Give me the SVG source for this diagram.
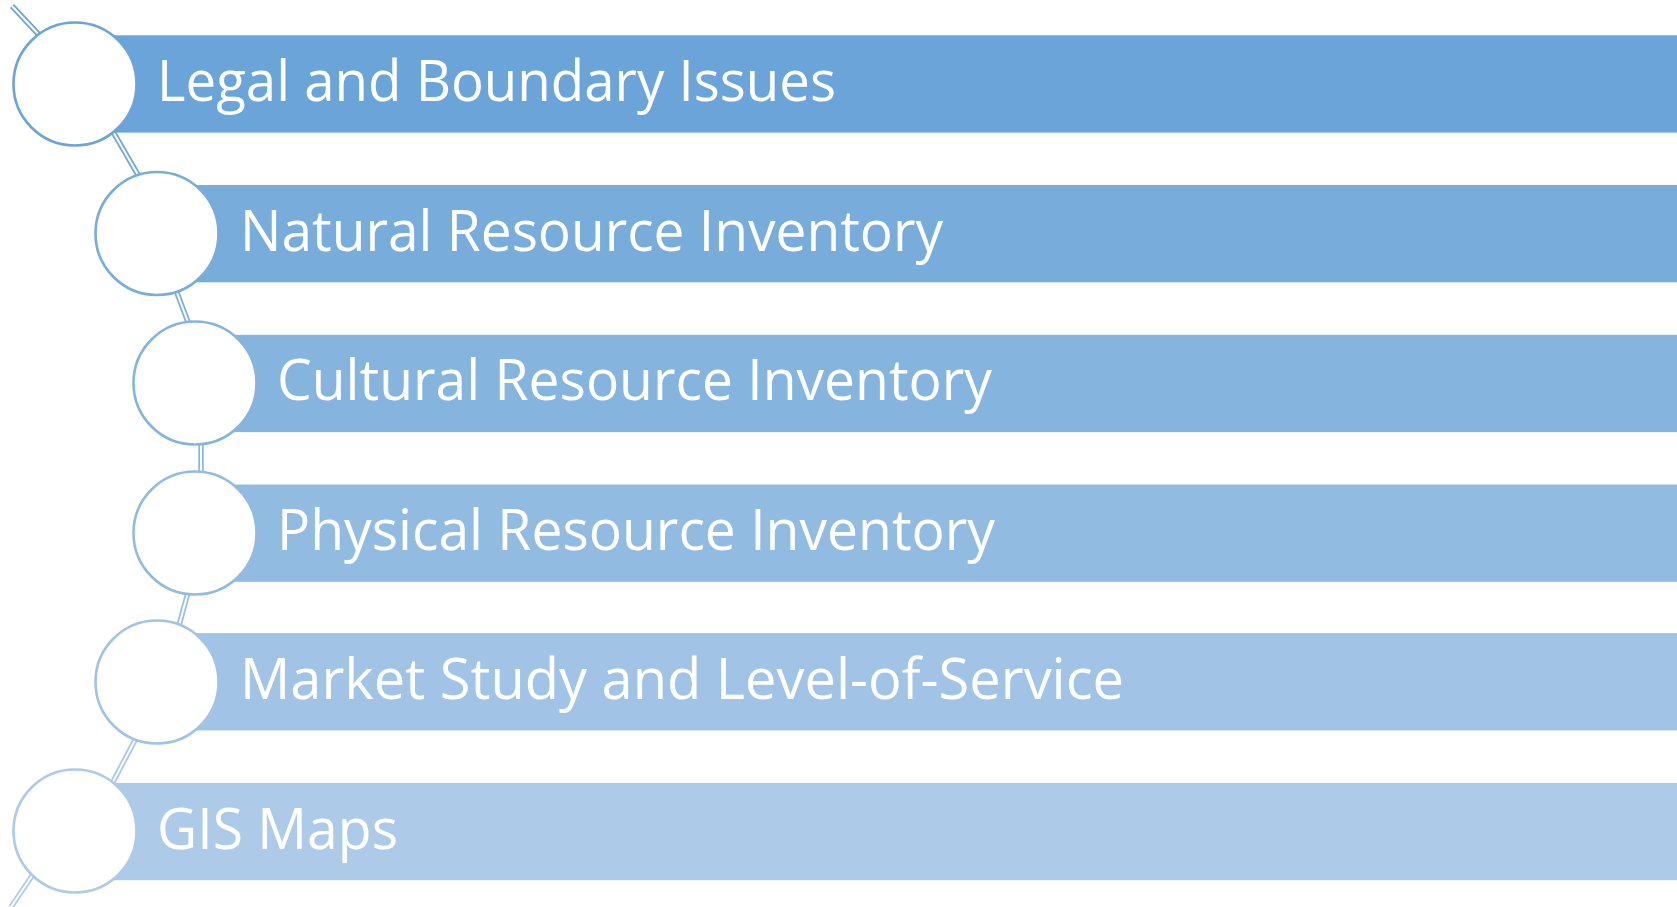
<svg xmlns="http://www.w3.org/2000/svg" width="1677" height="907" viewBox="0 0 1677 907">
<style>
.lbl{font-family:"Open Sans","Liberation Sans",sans-serif;font-size:56px;fill:#ffffff}
.ring{fill:#ffffff;stroke-width:2.6}
.co{fill:none;stroke-width:5.5;stroke-linecap:butt}
.ci{fill:none;stroke:#ffffff;stroke-width:2;stroke-linecap:butt}
</style>
<rect width="1677" height="907" fill="#ffffff"/>
<g id="bars">
<rect x="75" y="35.3" width="1602" height="97.3" fill="#6AA4D8"/>
<rect x="157" y="185" width="1520" height="97.3" fill="#77ACDB"/>
<rect x="195" y="334.8" width="1482" height="97.3" fill="#85B4DF"/>
<rect x="195" y="484.5" width="1482" height="97.3" fill="#92BBE2"/>
<rect x="157" y="633.1" width="1520" height="97.3" fill="#A0C3E6"/>
<rect x="75" y="782.9" width="1602" height="97.3" fill="#ADCBE9"/>
</g>
<g id="connectors">
<line class="co" x1="12" y1="6" x2="42" y2="38" stroke="#6AA4D8"/><line class="ci" x1="12" y1="6" x2="42" y2="38"/>
<line class="co" x1="104" y1="116" x2="145" y2="187" stroke="#70A8D9"/><line class="ci" x1="104" y1="116" x2="145" y2="187"/>
<line class="co" x1="171" y1="277" x2="194" y2="338" stroke="#7EB0DD"/><line class="ci" x1="171" y1="277" x2="194" y2="338"/>
<line class="co" x1="201" y1="420" x2="201" y2="500" stroke="#8BB8E0"/><line class="ci" x1="201" y1="420" x2="201" y2="500"/>
<line class="co" x1="192" y1="578" x2="175" y2="640" stroke="#99BFE4"/><line class="ci" x1="192" y1="578" x2="175" y2="640"/>
<line class="co" x1="143" y1="725" x2="106" y2="795" stroke="#A6C7E7"/><line class="ci" x1="143" y1="725" x2="106" y2="795"/>
<line class="co" x1="36" y1="870" x2="11" y2="907" stroke="#ADCBE9"/><line class="ci" x1="36" y1="870" x2="11" y2="907"/>
</g>
<g id="node1"><circle class="ring" cx="75" cy="84" r="61.5" stroke="#6AA4D8"/><text class="lbl" x="157" y="101" textLength="679" lengthAdjust="spacingAndGlyphs">Legal and Boundary Issues</text></g>
<g id="node2"><circle class="ring" cx="157" cy="233.5" r="61.5" stroke="#77ACDB"/><text class="lbl" x="240" y="250.6" textLength="703" lengthAdjust="spacingAndGlyphs">Natural Resource Inventory</text></g>
<g id="node3"><circle class="ring" cx="195" cy="383" r="61.5" stroke="#85B4DF"/><text class="lbl" x="277" y="400.2" textLength="715" lengthAdjust="spacingAndGlyphs">Cultural Resource Inventory</text></g>
<g id="node4"><circle class="ring" cx="195" cy="533" r="61.5" stroke="#92BBE2"/><text class="lbl" x="277" y="549.8" textLength="718" lengthAdjust="spacingAndGlyphs">Physical Resource Inventory</text></g>
<g id="node5"><circle class="ring" cx="157" cy="682" r="61.5" stroke="#A0C3E6"/><text class="lbl" x="240" y="699.4" textLength="884" lengthAdjust="spacingAndGlyphs">Market Study and Level-of-Service</text></g>
<g id="node6"><circle class="ring" cx="75" cy="831" r="61.5" stroke="#ADCBE9"/><text class="lbl" x="157" y="849" textLength="241" lengthAdjust="spacingAndGlyphs">GIS Maps</text></g>
</svg>
